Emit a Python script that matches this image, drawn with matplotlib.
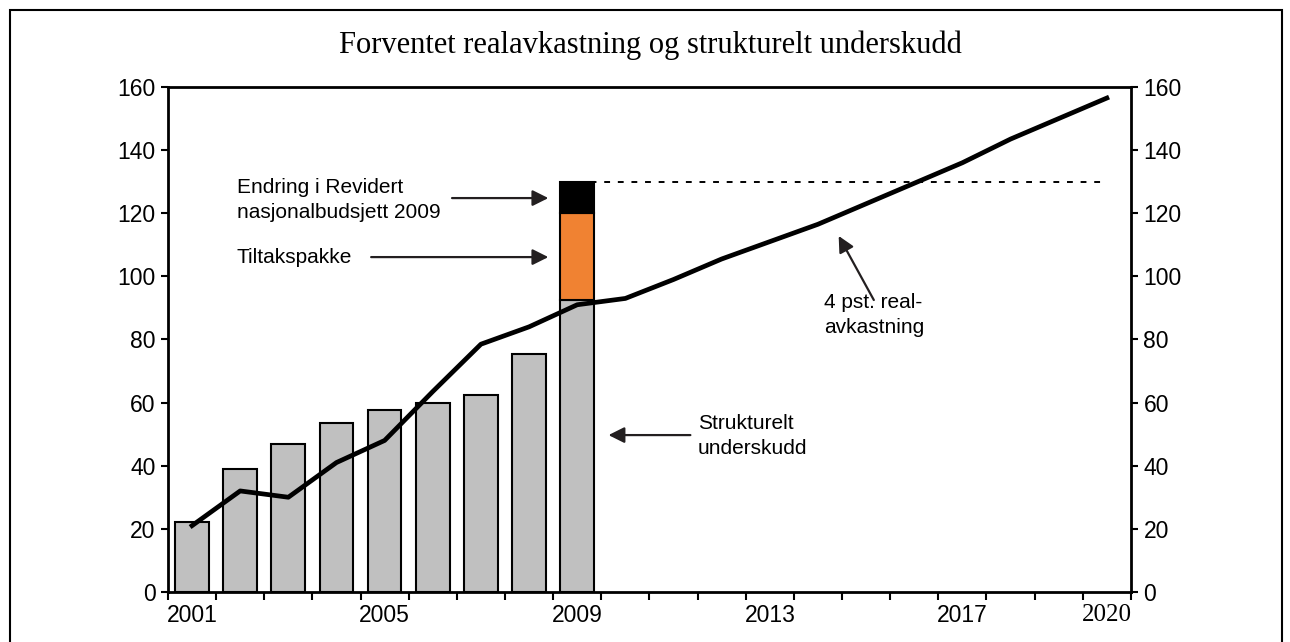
import numpy as np
import matplotlib
matplotlib.use("Agg")
import matplotlib.pyplot as plt
from matplotlib.patches import Rectangle

# Data
years = list(range(2001, 2021))
bar_years = list(range(2001, 2010))
strukturelt = [22, 39, 47, 53.5, 57.5, 60, 62.5, 75.5, 92.5]
tiltakspakke_2009 = 27.5
rnb_endring_2009 = 10
realavkastning = [21, 32, 30, 41, 48, 63.5, 78.5, 84, 91, 93,
                  99, 105.5, 111, 116.5, 123, 129.5, 136, 143.5, 150, 156.5]
year_labels = {2001: "2001", 2005: "2005", 2009: "2009", 2013: "2013", 2017: "2017", 2020: "2020"}

plt.rcParams["font.family"] = ["Liberation Sans", "DejaVu Sans"]

fig = plt.figure(figsize=(12.9, 6.42), dpi=100)
ax = fig.add_axes([0.1302, 0.078, 0.7465, 0.7865])

x_all = np.arange(len(years))
x_bar = np.array([years.index(y) for y in bar_years])

# bars
ax.bar(x_bar, strukturelt, width=0.7, color="#C0C0C0", edgecolor="black", linewidth=1.5, zorder=2)
i09 = years.index(2009)
ax.bar(i09, tiltakspakke_2009, bottom=strukturelt[-1], width=0.7,
       color="#F08232", edgecolor="black", linewidth=1.5, zorder=2)
ax.bar(i09, rnb_endring_2009, bottom=strukturelt[-1] + tiltakspakke_2009, width=0.7,
       color="black", edgecolor="black", linewidth=1.5, zorder=2)

# line
ax.plot(x_all, realavkastning, color="black", linewidth=3.4, zorder=3)

# dotted level line from top of 2009 bar
top09 = strukturelt[-1] + tiltakspakke_2009 + rnb_endring_2009
ax.plot([i09, len(years) - 1], [top09, top09], color="black", linestyle=(0, (3, 4)),
        linewidth=1.4, zorder=1)

# axes styling
ax.set_xlim(-0.5, len(years) - 0.5)
ax.set_ylim(0, 160)
ax.set_yticks(np.arange(0, 161, 20))
ax.tick_params(axis="y", which="both", direction="out", length=5, width=1.5,
               labelsize=16.5, left=True, right=True, labelleft=True, labelright=True, pad=4)
ax.set_xticks(np.arange(-0.5, len(years), 1))
ax.set_xticklabels([])
ax.tick_params(axis="x", which="major", direction="out", length=6, width=1.5)
lab_pos = [years.index(y) for y in year_labels]
ax.set_xticks(lab_pos, minor=True)
ax.set_xticklabels(list(year_labels.values()), minor=True)
ax.tick_params(axis="x", which="minor", length=0, labelsize=16.5, pad=9)
for t in ax.get_xticklabels(minor=True):
    if t.get_text() == "2020":
        t.set_fontfamily("Liberation Serif")
        t.set_fontsize(18)
for s in ax.spines.values():
    s.set_linewidth(2)

# annotations
arrow = dict(arrowstyle="-|>", color="#231F20", lw=1.6, mutation_scale=24, shrinkA=0, shrinkB=0)
ax.annotate("", xy=(7.40, 124.8), xytext=(5.40, 124.8), arrowprops=arrow)
ax.text(0.93, 124.2, "Endring i Revidert\nnasjonalbudsjett 2009", fontsize=15,
        ha="left", va="center", linespacing=1.4)
ax.annotate("", xy=(7.40, 106.1), xytext=(3.72, 106.1), arrowprops=arrow)
ax.text(0.93, 106.1, "Tiltakspakke", fontsize=15, ha="left", va="center")
ax.annotate("", xy=(8.65, 49.7), xytext=(10.35, 49.7), arrowprops=arrow)
ax.text(10.5, 49.4, "Strukturelt\nunderskudd", fontsize=15, ha="left", va="center",
        linespacing=1.4)
ax.annotate("", xy=(13.43, 112.8), xytext=(14.16, 92.5), arrowprops=arrow)
ax.text(13.12, 87.8, "4 pst. real-\navkastning", fontsize=15, ha="left", va="center",
        linespacing=1.4)

# title
fig.text(0.504, 0.929, "Forventet realavkastning og strukturelt underskudd",
         fontsize=22, family="Liberation Serif", ha="center", va="center")

# outer frame
fig.patches.append(Rectangle((10 / 1290, -0.05), 1272 / 1290, 1.05 - 10 / 642,
                             transform=fig.transFigure, fill=False,
                             edgecolor="black", linewidth=1.5))

fig.savefig("out.png", dpi=100)
